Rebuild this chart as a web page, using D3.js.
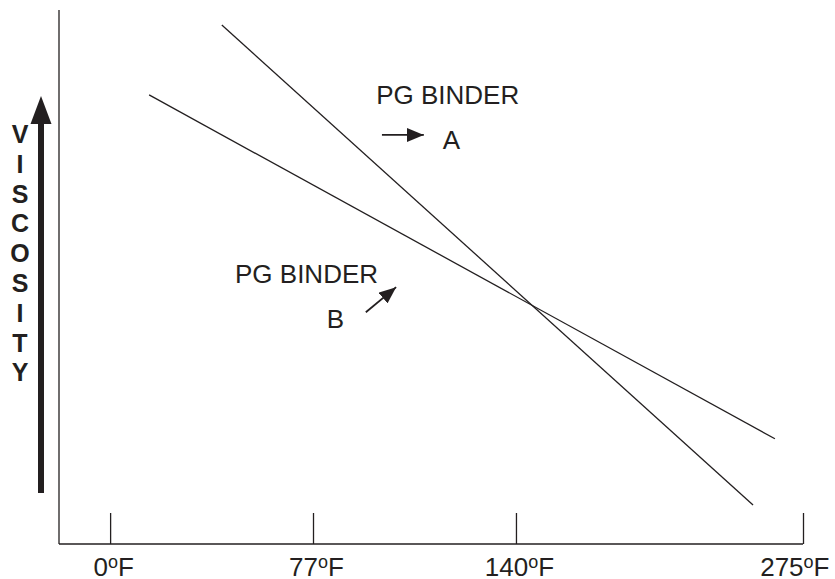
<!DOCTYPE html>
<html>
<head>
<meta charset="utf-8">
<script src="https://cdn.jsdelivr.net/npm/d3@7"></script>
<style>
  body { margin: 0; background: #fff; }
  text { font-family: "Liberation Sans", Arial, sans-serif; fill: #231f20; }
</style>
</head>
<body>
<div id="chart"></div>
<script>
// temperatures on the x axis (deg F)
const tickTemps = [0, 77, 140, 275];
const yLetters = "VISCOSITY".split("");

// viscosity lines, relative viscosity 0-100 (no scale shown)
const binderA = [
  { temp: 42.4, visc: 97.2 },
  { temp: 251.5, visc: 7.3 },
];
const binderB = [
  { temp: 14.8, visc: 84.1 },
  { temp: 261.8, visc: 19.7 },
];

// annotation anchors, in data units
const labels = [
  { text: "PG BINDER", temp: 96.6, visc: 82.4 },
  { text: "A", temp: 117.3, visc: 74.0 },
  { text: "PG BINDER", temp: 47.4, visc: 48.9 },
  { text: "B", temp: 81.3, visc: 40.4 },
];
const pointers = [
  { from: [98.4, 76.6], to: [111.4, 76.6] },
  { from: [93.4, 43.4], to: [102.8, 48.1] },
];

const ink = "#231f20";

let dimensions = {
  width: 835,
  height: 579,
  margin: { top: 10, right: 32, bottom: 35, left: 59 },
};
dimensions.boundedWidth =
  dimensions.width - dimensions.margin.left - dimensions.margin.right;
dimensions.boundedHeight =
  dimensions.height - dimensions.margin.top - dimensions.margin.bottom;

const chart = d3
  .select("#chart")
  .append("svg")
  .attr("width", dimensions.width)
  .attr("height", dimensions.height);

const bounds = chart
  .append("g")
  .attr("transform", `translate(${dimensions.margin.left},${dimensions.margin.top})`);

// tick spacing in the figure is not proportional, so map piecewise
const bw = dimensions.boundedWidth;
const xScale = d3
  .scaleLinear()
  .domain(tickTemps)
  .range([0.0687 * bw, 0.3414 * bw, 0.6142 * bw, bw]);

const yScale = d3
  .scaleLinear()
  .domain([0, 100])
  .range([dimensions.boundedHeight, 0]);

// frame
bounds
  .append("line")
  .attr("x1", 0)
  .attr("x2", 0)
  .attr("y1", 0)
  .attr("y2", dimensions.boundedHeight)
  .attr("stroke", ink)
  .attr("stroke-width", 1.3);

const xAxisGenerator = d3
  .axisBottom(xScale)
  .tickValues(tickTemps)
  .tickSizeInner(-31)
  .tickSizeOuter(0)
  .tickFormat("");

const xAxis = bounds
  .append("g")
  .attr("transform", `translate(0,${dimensions.boundedHeight})`)
  .call(xAxisGenerator);
xAxis.select(".domain").remove();
xAxis.selectAll(".tick line").attr("stroke", ink).attr("stroke-width", 1.3);

xAxis
  .append("line")
  .attr("x1", 0)
  .attr("x2", xScale(275))
  .attr("stroke", ink)
  .attr("stroke-width", 1.3);

// tick labels with a raised small "o" for degrees
const tickLabels = xAxis
  .selectAll(".tick")
  .append("text")
  .attr("x", 3)
  .attr("y", 32)
  .attr("text-anchor", "middle")
  .style("font-size", "26px")
  .attr("fill", ink);
tickLabels.append("tspan").text((d) => d);
tickLabels
  .append("tspan")
  .attr("dy", -8)
  .style("font-size", "18px")
  .text("o");
tickLabels.append("tspan").attr("dy", 8).text("F");

// keep the last label inside the picture
tickLabels.each(function (d) {
  const box = this.getBBox();
  const absRight = dimensions.margin.left + xScale(d) + box.x + box.width;
  const over = absRight - (dimensions.width - 3);
  if (over > 0) d3.select(this).attr("x", -over);
});

// viscosity lines
const lineGenerator = d3
  .line()
  .x((d) => xScale(d.temp))
  .y((d) => yScale(d.visc));

bounds
  .selectAll(".binder")
  .data([binderA, binderB])
  .join("path")
  .attr("class", "binder")
  .attr("d", lineGenerator)
  .attr("fill", "none")
  .attr("stroke", ink)
  .attr("stroke-width", 1.3);

// annotations
bounds
  .selectAll(".note")
  .data(labels)
  .join("text")
  .attr("class", "note")
  .attr("x", (d) => xScale(d.temp))
  .attr("y", (d) => yScale(d.visc))
  .style("font-size", "26px")
  .text((d) => d.text);

const defs = chart.append("defs");
defs
  .append("marker")
  .attr("id", "head")
  .attr("viewBox", "0 0 17 14")
  .attr("refX", 17)
  .attr("refY", 7)
  .attr("markerWidth", 17)
  .attr("markerHeight", 14)
  .attr("markerUnits", "userSpaceOnUse")
  .attr("orient", "auto")
  .append("path")
  .attr("d", "M0,0 L17,7 L0,14 Z")
  .attr("fill", ink);

bounds
  .selectAll(".pointer")
  .data(pointers)
  .join("line")
  .attr("class", "pointer")
  .attr("x1", (d) => xScale(d.from[0]))
  .attr("y1", (d) => yScale(d.from[1]))
  .attr("x2", (d) => xScale(d.to[0]))
  .attr("y2", (d) => yScale(d.to[1]))
  .attr("stroke", ink)
  .attr("stroke-width", 1.8)
  .attr("marker-end", "url(#head)");

// y axis title: stacked letters and a heavy arrow
const yTitle = chart.append("g");
yTitle
  .selectAll("text")
  .data(yLetters)
  .join("text")
  .attr("x", 20)
  .attr("y", (d, i) => 143 + i * 29.8)
  .attr("text-anchor", "middle")
  .style("font-size", "25px")
  .style("font-weight", "bold")
  .text((d) => d);

yTitle
  .append("line")
  .attr("x1", 41)
  .attr("x2", 41)
  .attr("y1", 493)
  .attr("y2", 120)
  .attr("stroke", ink)
  .attr("stroke-width", 6);
yTitle
  .append("path")
  .attr("d", "M41,96 L51.5,124 L30.5,124 Z")
  .attr("fill", ink);
</script>
</body>
</html>
